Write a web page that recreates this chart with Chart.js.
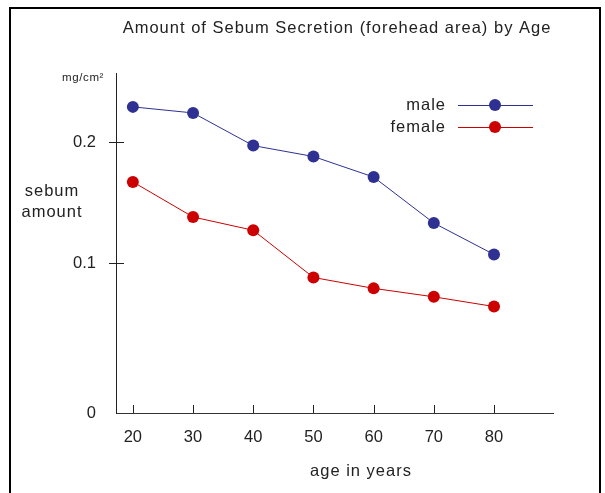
<!DOCTYPE html>
<html>
<head>
<meta charset="utf-8">
<title>Amount of Sebum Secretion by Age</title>
<script src="https://cdn.jsdelivr.net/npm/chart.js@4.4.1/dist/chart.umd.min.js"></script>
<style>
	html, body { margin: 0; padding: 0; background: #fff; }
	#wrap { position: relative; width: 605px; height: 493px; }
</style>
</head>
<body>
<div id="wrap"><canvas id="sebumChart" width="605" height="493"></canvas></div>
<script>
// data
const ages = [20, 30, 40, 50, 60, 70, 80];
const maleSebum = [0.229, 0.224, 0.197, 0.188, 0.171, 0.133, 0.107];
const femaleSebum = [0.167, 0.138, 0.127, 0.088, 0.079, 0.072, 0.064];
const yTickValues = [0.1, 0.2];
const seriesNames = ['male', 'female'];

const FONT = '"Liberation Sans", Arial, Helvetica, sans-serif';
const TEXT = '#222';
const BLUE = '#2E3192';
const RED = '#CC0000';

// the axis bottom is labelled "0" (axis is shortened in the original)
const yBottom = -0.024;
const yTop = 0.257;

function toPoints(values) {
	return values.map((v, i) => ({ x: ages[i], y: v }));
}

// tick marks, frame, legend and free texts
const decorations = {
	id: 'decorations',
	beforeDraw(chart) {
		const ctx = chart.ctx;
		ctx.save();
		ctx.strokeStyle = '#000';
		ctx.lineWidth = 2;
		ctx.beginPath();
		ctx.moveTo(10, 520);
		ctx.lineTo(10, 8);
		ctx.lineTo(600, 8);
		ctx.lineTo(600, 520);
		ctx.stroke();
		ctx.restore();
	},
	afterDraw(chart) {
		const ctx = chart.ctx;
		const xs = chart.scales.x;
		const ys = chart.scales.y;
		const area = chart.chartArea;
		ctx.save();
		ctx.strokeStyle = '#222';
		ctx.lineWidth = 1;
		// y ticks cross the axis
		yTickValues.forEach((v) => {
			const py = Math.round(ys.getPixelForValue(v)) + 0.5;
			ctx.beginPath();
			ctx.moveTo(area.left - 7, py);
			ctx.lineTo(area.left + 8, py);
			ctx.stroke();
		});
		// x ticks point inward
		ages.forEach((a) => {
			const px = Math.round(xs.getPixelForValue(a)) + 0.5;
			ctx.beginPath();
			ctx.moveTo(px, area.bottom - 8);
			ctx.lineTo(px, area.bottom);
			ctx.stroke();
		});

		ctx.fillStyle = TEXT;
		ctx.letterSpacing = '1px';
		ctx.textBaseline = 'middle';
		ctx.font = '16.5px ' + FONT;
		ctx.textAlign = 'center';
		ctx.fillText('Amount of Sebum Secretion (forehead area) by Age', 337, 28);
		ctx.fillText('age in years', 361, 471);
		ctx.fillText('sebum', 52, 191);
		ctx.fillText('amount', 52, 212);

		ctx.font = '11.5px ' + FONT;
		ctx.letterSpacing = '0.6px';
		ctx.textAlign = 'right';
		ctx.fillText('mg/cm²', 104, 78);

		// legend
		ctx.font = '16.5px ' + FONT;
		ctx.letterSpacing = '1px';
		chart.data.datasets.forEach((ds, i) => {
			const ly = 105 + i * 22;
			ctx.fillStyle = TEXT;
			ctx.textAlign = 'right';
			ctx.fillText(ds.label, 446, ly);
			ctx.strokeStyle = ds.borderColor;
			ctx.beginPath();
			ctx.moveTo(458, ly + 0.5);
			ctx.lineTo(533, ly + 0.5);
			ctx.stroke();
			ctx.fillStyle = ds.pointBackgroundColor;
			ctx.beginPath();
			ctx.arc(495, ly, 6, 0, Math.PI * 2);
			ctx.fill();
		});
		ctx.restore();
	}
};

const canvas = document.getElementById('sebumChart');
new Chart(canvas.getContext('2d'), {
	type: 'line',
	data: {
		datasets: [
			{
				label: seriesNames[0],
				data: toPoints(maleSebum),
				borderColor: BLUE,
				backgroundColor: BLUE,
				pointBackgroundColor: BLUE,
				pointBorderWidth: 0,
				pointRadius: 6,
				borderWidth: 1,
				tension: 0,
			},
			{
				label: seriesNames[1],
				data: toPoints(femaleSebum),
				borderColor: RED,
				backgroundColor: RED,
				pointBackgroundColor: RED,
				pointBorderWidth: 0,
				pointRadius: 6,
				borderWidth: 1,
				tension: 0,
			},
		],
	},
	options: {
		responsive: false,
		animation: false,
		layout: { padding: { left: 0, right: 52, top: 73, bottom: 0 } },
		plugins: {
			legend: { display: false },
			title: { display: false },
			tooltip: { enabled: false },
		},
		scales: {
			x: {
				type: 'linear',
				min: 17.2,
				max: 89.8,
				afterFit: (scale) => { scale.height = 80; },
				afterBuildTicks: (scale) => { scale.ticks = ages.map((a) => ({ value: a })); },
				grid: { display: false, drawTicks: false },
				border: { display: true, color: '#333', width: 1 },
				ticks: {
					padding: 15,
					color: TEXT,
					font: { family: FONT, size: 16.5 },
					maxRotation: 0,
				},
			},
			y: {
				type: 'linear',
				min: yBottom,
				max: yTop,
				afterFit: (scale) => { scale.width = 116; },
				afterBuildTicks: (scale) => {
					scale.ticks = [{ value: yBottom }].concat(yTickValues.map((v) => ({ value: v })));
				},
				grid: { display: false, drawTicks: false },
				border: { display: true, color: '#222', width: 1 },
				ticks: {
					padding: 20,
					color: TEXT,
					font: { family: FONT, size: 16.5 },
					callback: (v) => (v === yBottom ? '0' : v.toFixed(1)),
				},
			},
		},
	},
	plugins: [decorations],
});
</script>
</body>
</html>
